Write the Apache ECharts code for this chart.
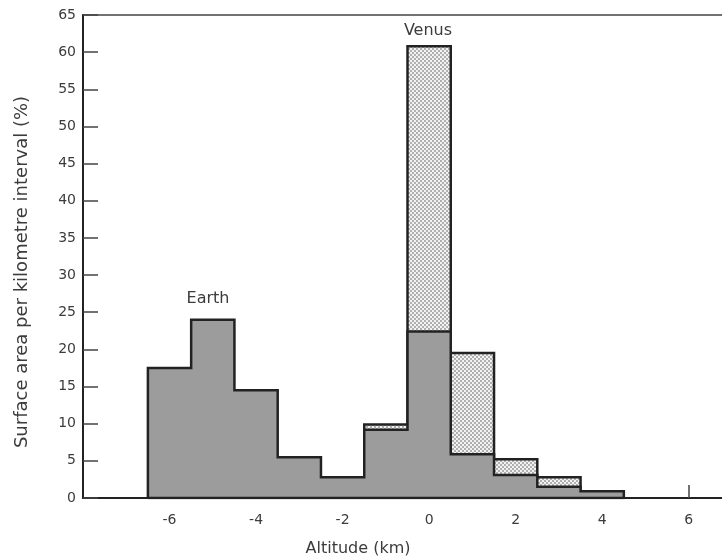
<!DOCTYPE html>
<html>
<head>
<meta charset="utf-8">
<script src="https://cdn.jsdelivr.net/npm/echarts@6/dist/echarts.min.js"></script>
<style>html,body{margin:0;padding:0;background:#fff;}#c{width:722px;height:558px;}</style>
</head>
<body>
<div id="c"></div>
<script>
// Data (altitude bins in km, bin width 1 km, centred on integers)
const bins = [-6, -5, -4, -3, -2, -1, 0, 1, 2, 3, 4];
const earth = [17.5, 24.0, 14.5, 5.5, 2.8, 9.2, 22.4, 5.9, 3.1, 1.5, 0.9];
const venus = [0, 0, 0, 0, 0, 9.9, 60.8, 19.5, 5.2, 2.8, 0];
const xTicks = [-6, -4, -2, 0, 2, 4, 6];
const xVisibleTicks = [6];
const yTicks = [0, 5, 10, 15, 20, 25, 30, 35, 40, 45, 50, 55, 60, 65];
const binWidth = 1;

const FONT = 'DejaVu Sans';
const TXT = '#3c3c3c';
const LINE = '#222';

// stipple (checker) pattern for Venus
const pat = document.createElement('canvas');
pat.width = 4; pat.height = 4;
const pc = pat.getContext('2d');
pc.fillStyle = '#f2f2f2'; pc.fillRect(0, 0, 4, 4);
pc.fillStyle = '#b0b0b0';
pc.fillRect(0, 0, 2, 2); pc.fillRect(2, 2, 2, 2);

// closed step outline of a histogram, built from the data arrays
function outline(vals) {
  const pts = [[bins[0] - binWidth / 2, 0]];
  for (let i = 0; i < bins.length; i++) {
    pts.push([bins[i] - binWidth / 2, vals[i]]);
    pts.push([bins[i] + binWidth / 2, vals[i]]);
  }
  pts.push([bins[bins.length - 1] + binWidth / 2, 0]);
  pts.push([bins[0] - binWidth / 2, 0]);
  return pts;
}

const chart = echarts.init(document.getElementById('c'), null, { renderer: 'canvas' });
chart.setOption({
  animation: false,
  backgroundColor: '#ffffff',
  grid: { left: 83, right: -10, top: 15, bottom: 60, outerBoundsMode: 'none', containLabel: false,
          show: true, borderColor: '#444', borderWidth: 1.5, backgroundColor: 'transparent' },
  xAxis: {
    type: 'value', min: -8, max: 7, interval: 2,
    axisLine: { show: true, onZero: false, lineStyle: { color: LINE, width: 2 } },
    axisTick: { show: true, inside: true, length: 13, customValues: xVisibleTicks, lineStyle: { color: '#444', width: 1.5 } },
    axisLabel: {
      fontFamily: FONT, fontSize: 14, color: TXT, margin: 15,
      formatter: v => (xTicks.indexOf(v) >= 0 ? String(v) : '')
    },
    splitLine: { show: false }
  },
  yAxis: {
    type: 'value', min: 0, max: 65, interval: 5,
    axisLine: { show: true, onZero: false, lineStyle: { color: LINE, width: 2 } },
    axisTick: { show: true, inside: true, length: 15, lineStyle: { color: '#444', width: 1.5 } },
    axisLabel: {
      fontFamily: FONT, fontSize: 14, color: TXT, margin: 7,
      formatter: v => (yTicks.indexOf(v) >= 0 ? String(v) : '')
    },
    splitLine: { show: false }
  },
  series: [
    {
      name: 'Venus', type: 'line', z: 3, symbol: 'none',
      lineStyle: { color: LINE, width: 2.5, join: 'miter' },
      areaStyle: { color: { image: pat, repeat: 'repeat' }, opacity: 1 },
      data: outline(venus)
    },
    {
      name: 'Earth', type: 'line', z: 5, symbol: 'none',
      lineStyle: { color: LINE, width: 2.5, join: 'miter' },
      areaStyle: { color: '#9c9c9c', opacity: 1 },
      data: outline(earth)
    }
  ],
  graphic: [
    { type: 'text', x: 208, y: 299, style: { text: 'Earth', font: '16px "DejaVu Sans"', fill: TXT, align: 'center', verticalAlign: 'middle' } },
    { type: 'text', x: 428, y: 31, style: { text: 'Venus', font: '16px "DejaVu Sans"', fill: TXT, align: 'center', verticalAlign: 'middle' } },
    { type: 'text', x: 358, y: 549, style: { text: 'Altitude (km)', font: '16px "DejaVu Sans"', fill: TXT, align: 'center', verticalAlign: 'middle' } },
    { type: 'text', x: 22, y: 272, rotation: Math.PI / 2, style: { text: 'Surface area per kilometre interval (%)', font: '18px "DejaVu Sans"', fill: TXT, align: 'center', verticalAlign: 'middle' } }
  ]
});
</script>
</body>
</html>
